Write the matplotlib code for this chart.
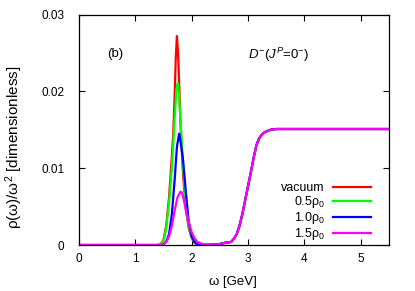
import numpy as np
import matplotlib
matplotlib.use("Agg")
import matplotlib.pyplot as plt

plt.rcParams['font.family'] = ['Liberation Sans', 'DejaVu Sans']
plt.rcParams['mathtext.fontset'] = 'custom'
plt.rcParams['mathtext.rm'] = 'Liberation Sans'
plt.rcParams['mathtext.it'] = 'Liberation Sans:italic'

## peak region
omega_vac = [0.0, 1.40, 1.45, 1.50, 1.55, 1.60, 1.65, 1.675, 1.70, 1.72, 1.74, 1.76, 1.78,
             1.80, 1.82, 1.85, 1.90, 1.95, 2.00, 2.05, 2.10, 2.15]
rho_vac = [0.0, 0.0, 0.0001, 0.0006, 0.0025, 0.0062, 0.0115, 0.0145, 0.0195, 0.0245, 0.0272,
           0.0250, 0.0210, 0.0165, 0.0132, 0.0090, 0.0045, 0.0022, 0.0009, 0.0003, 0.0001, 0.0]

omega_05 = [0.0, 1.40, 1.45, 1.50, 1.55, 1.60, 1.65, 1.70, 1.73, 1.755, 1.78, 1.80, 1.83,
            1.85, 1.90, 1.95, 2.00, 2.05, 2.10, 2.15]
rho_05 = [0.0, 0.0, 0.0001, 0.0005, 0.0022, 0.0055, 0.0100, 0.0165, 0.0202, 0.0211, 0.0195,
          0.0165, 0.0130, 0.0100, 0.0052, 0.0024, 0.0010, 0.0004, 0.0001, 0.0]

omega_10 = [0.0, 1.45, 1.50, 1.55, 1.60, 1.65, 1.70, 1.74, 1.78, 1.81, 1.85, 1.88, 1.90,
            1.95, 2.00, 2.05, 2.10, 2.15]
rho_10 = [0.0, 0.0, 0.0001, 0.0004, 0.0014, 0.0040, 0.0085, 0.0128, 0.0145, 0.0132, 0.0110,
          0.0085, 0.0068, 0.0030, 0.0012, 0.0004, 0.0001, 0.0]

omega_15 = [0.0, 1.45, 1.50, 1.55, 1.60, 1.65, 1.70, 1.75, 1.80, 1.82, 1.85, 1.90, 1.95,
            2.00, 2.05, 2.10, 2.20]
rho_15 = [0.0, 0.0, 0.0001, 0.0004, 0.0011, 0.0025, 0.0045, 0.0062, 0.0069, 0.0069, 0.0063,
          0.0045, 0.0030, 0.0017, 0.0009, 0.0004, 0.0001]

## continuum, same for all densities
omega_cont = [2.30, 2.40, 2.50, 2.60, 2.70, 2.75, 2.80, 2.85, 2.90, 2.95, 3.00, 3.05, 3.10,
              3.15, 3.20, 3.25, 3.30, 3.40, 3.50, 3.70, 5.50]
rho_cont = [0.00003, 0.00005, 0.00012, 0.0003, 0.0004, 0.0008, 0.0014, 0.0025, 0.0040, 0.0058,
            0.0076, 0.0094, 0.0113, 0.0130, 0.0139, 0.0144, 0.0147, 0.0150, 0.0151, 0.0151, 0.0151]

labels = ['vacuum', '0.5ρ$_0$', '1.0ρ$_0$', '1.5ρ$_0$']
colors = ['#ff0000', '#00ff00', '#0000ff', '#ff00ff']

fig = plt.figure(figsize=(4.15, 2.91), dpi=100)
ax = fig.add_axes([0.190, 0.158, 0.747, 0.792])

for om, rho, lab, c in zip([omega_vac, omega_05, omega_10, omega_15],
                           [rho_vac, rho_05, rho_10, rho_15], labels, colors):
    ax.plot(list(om) + omega_cont, list(rho) + rho_cont, color=c, lw=1.6, label=lab)

ax.set_xlim(0, 5.5)
ax.set_ylim(0, 0.03)
ax.set_xticks([0, 1, 2, 3, 4, 5])
ax.set_yticks([0, 0.01, 0.02, 0.03])
ax.set_yticklabels(['0', '0.01', '0.02', '0.03'])
ax.tick_params(direction='in', top=True, right=True, length=4, width=0.8,
               labelsize=8.5)
ax.tick_params(axis='x', pad=5.5)
ax.tick_params(axis='y', pad=10.5)
for s in ax.spines.values():
    s.set_linewidth(0.9)

ax.set_xlabel('ω [GeV]', fontsize=9.5)
ax.xaxis.set_label_coords(0.498, -0.135)
ax.set_ylabel('ρ(ω)/ω$^{2}$ [dimensionless]', fontsize=11)
ax.yaxis.set_label_coords(-0.175, 0.423)

ax.text(0.51, 0.0248, '(b)', fontsize=9.5, va='center')
ax.text(3.0, 0.0248, '$D^{-}$($J^{P}$=0$^{-}$)', fontsize=9.5, va='center')

ax.legend(loc='lower right', bbox_to_anchor=(0.975, -0.031), frameon=False,
          markerfirst=False, fontsize=9, handlelength=3.05, labelspacing=0.0,
          handletextpad=0.65, borderpad=0.3)

fig.savefig('out.png', dpi=100)
